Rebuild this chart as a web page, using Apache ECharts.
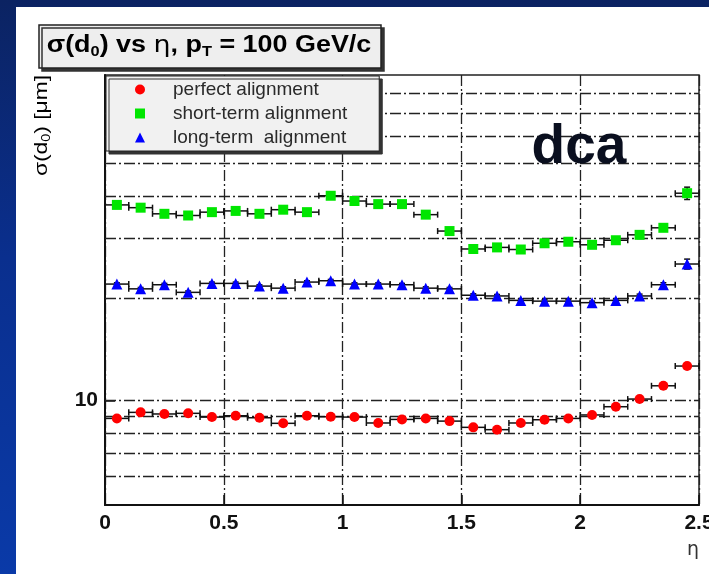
<!DOCTYPE html>
<html>
<head>
<meta charset="utf-8">
<script src="https://cdn.jsdelivr.net/npm/echarts@6/dist/echarts.min.js"></script>
<style>
html, body { margin: 0; padding: 0; }
body {
  width: 709px; height: 574px; overflow: hidden; position: relative;
  background: linear-gradient(180deg, #0b2362 0%, #0a2f8e 45%, #0a3aa8 100%);
}
#panel { position: absolute; left: 16px; top: 7px; right: 0; bottom: 0; background: #fff; }
#main { position: absolute; left: 0; top: 0; width: 709px; height: 574px; }
</style>
</head>
<body>
<div id="panel"></div>
<div id="main"></div>
<script>
var chart = echarts.init(document.getElementById('main'));

// eta bin centres, bins are 0.1 wide
var etaBins = [0.05, 0.15, 0.25, 0.35, 0.45, 0.55, 0.65, 0.75, 0.85, 0.95,
  1.05, 1.15, 1.25, 1.35, 1.45, 1.55, 1.65, 1.75, 1.85, 1.95,
  2.05, 2.15, 2.25, 2.35, 2.45];
var etaHalfWidth = 0.05;

// sigma(d0) in um
var perfectAlign = [8.86, 9.23, 9.13, 9.17, 8.94, 9.02, 8.90, 8.57, 9.02, 8.96,
  8.94, 8.59, 8.80, 8.86, 8.70, 8.34, 8.21, 8.59, 8.78, 8.86,
  9.07, 9.59, 10.10, 11.05, 12.63];
var perfectErr = [0.1, 0.1, 0.1, 0.1, 0.1, 0.1, 0.1, 0.1, 0.1, 0.1,
  0.1, 0.1, 0.1, 0.1, 0.1, 0.1, 0.1, 0.1, 0.1, 0.1,
  0.1, 0.12, 0.14, 0.18, 0.25];

var shortTerm = [37.6, 36.9, 35.4, 35.0, 35.8, 36.1, 35.4, 36.4, 35.8, 40.0,
  38.6, 37.8, 37.8, 35.2, 31.5, 27.9, 28.2, 27.8, 29.0, 29.3,
  28.7, 29.6, 30.7, 32.2, 40.7];
var shortTermErr = [0.3, 0.3, 0.3, 0.3, 0.3, 0.3, 0.3, 0.3, 0.3, 0.3,
  0.3, 0.3, 0.3, 0.3, 0.3, 0.3, 0.3, 0.3, 0.3, 0.3,
  0.3, 0.3, 0.4, 0.5, 1.7];

var longTerm = [22.0, 21.3, 21.9, 20.8, 22.1, 22.1, 21.7, 21.4, 22.3, 22.5,
  22.0, 22.0, 21.9, 21.4, 21.3, 20.4, 20.3, 19.7, 19.6, 19.6,
  19.4, 19.7, 20.3, 21.9, 25.2];
var longTermErr = [0.2, 0.2, 0.2, 0.2, 0.2, 0.2, 0.2, 0.2, 0.2, 0.2,
  0.2, 0.2, 0.2, 0.2, 0.2, 0.2, 0.2, 0.2, 0.2, 0.2,
  0.2, 0.2, 0.25, 0.3, 0.85];

var seriesNames = ['perfect alignment', 'short-term alignment', 'long-term  alignment'];
var yGridValues = [6, 7, 8, 9, 10, 20, 30, 40, 50, 60, 70, 80];
var yMin = 4.93, yMax = 90.6;

var gridDash = [11, 3, 2, 3];
var font = 'Liberation Sans, Arial, sans-serif';

function points(vals) {
  return etaBins.map(function (x, i) { return [x, vals[i]]; });
}
function withErr(vals, errs) {
  return etaBins.map(function (x, i) { return [x, vals[i], errs[i]]; });
}

// horizontal bin-width bars + vertical errors, ROOT style with end caps
function drawErrors(params, api) {
  var x = api.value(0), y = api.value(1), e = api.value(2);
  var l = api.coord([x - etaHalfWidth, y]);
  var r = api.coord([x + etaHalfWidth, y]);
  var lo = api.coord([x, y - e]);
  var hi = api.coord([x, y + e]);
  var c = 3;
  var st = { stroke: '#111', lineWidth: 1.5 };
  return {
    type: 'group',
    children: [
      { type: 'line', shape: { x1: l[0], y1: l[1], x2: r[0], y2: r[1] }, style: st },
      { type: 'line', shape: { x1: l[0], y1: l[1] - c, x2: l[0], y2: l[1] + c }, style: st },
      { type: 'line', shape: { x1: r[0], y1: r[1] - c, x2: r[0], y2: r[1] + c }, style: st },
      { type: 'line', shape: { x1: lo[0], y1: lo[1], x2: hi[0], y2: hi[1] }, style: st },
      { type: 'line', shape: { x1: hi[0] - c, y1: hi[1], x2: hi[0] + c, y2: hi[1] }, style: st },
      { type: 'line', shape: { x1: lo[0] - c, y1: lo[1], x2: lo[0] + c, y2: lo[1] }, style: st }
    ]
  };
}

var subRich = {
  a: { fontSize: 23, fontWeight: 'bold', fontFamily: font, color: '#111' },
  g: { fontSize: 23, fontWeight: 'normal', fontFamily: 'DejaVu Sans, sans-serif', color: '#111' },
  s: { fontSize: 14, fontWeight: 'bold', fontFamily: font, color: '#111', padding: [12, 0, 0, 0] }
};
var nameRich = {
  a: { fontSize: 19, fontFamily: font, color: '#222' },
  s: { fontSize: 12, fontFamily: font, color: '#222', padding: [10, 0, 0, 0] }
};

var option = {
  animation: false,
  backgroundColor: 'transparent',
  grid: {
    left: 105, right: 10, top: 75, bottom: 69,
    outerBoundsMode: 'none',
    show: true, borderColor: '#222', borderWidth: 1.5
  },
  legend: {
    orient: 'vertical',
    left: 106, top: 76,
    padding: [4, 32, 4, 29],
    itemWidth: 10, itemHeight: 10, itemGap: 5,
    selectedMode: false,
    backgroundColor: '#f1f1f1',
    borderColor: '#222', borderWidth: 1,
    shadowColor: '#333', shadowBlur: 0, shadowOffsetX: 3, shadowOffsetY: 3,
    textStyle: { fontSize: 19, fontFamily: font, color: '#2a2a2a', padding: [0, 0, 0, 23] },
    data: [
      { name: seriesNames[0], icon: 'circle' },
      { name: seriesNames[1], icon: 'rect' },
      { name: seriesNames[2], icon: 'triangle' }
    ]
  },
  xAxis: {
    type: 'value', min: 0, max: 2.5, interval: 0.5,
    axisLine: { onZero: false, lineStyle: { color: '#111', width: 2 } },
    axisTick: { inside: true, length: 10, lineStyle: { color: '#111', width: 1.5 } },
    axisLabel: { fontSize: 21, fontWeight: 'bold', fontFamily: font, color: '#111', margin: 8 },
    splitLine: { show: true, lineStyle: { type: gridDash, color: '#222', width: 1.3 } }
  },
  yAxis: {
    type: 'log', min: yMin, max: yMax, logBase: 10,
    axisLine: { onZero: false, lineStyle: { color: '#111', width: 2 } },
    axisTick: { inside: true, length: 10, lineStyle: { color: '#111', width: 1.5 } },
    axisLabel: { fontSize: 21, fontWeight: 'bold', fontFamily: font, color: '#111', margin: 7,
      showMinLabel: false, showMaxLabel: false },
    splitLine: { show: false }
  },
  graphic: [
    {
      type: 'group', z: 100,
      children: [
        { type: 'rect', shape: { x: 39, y: 25, width: 342, height: 43 },
          style: { fill: '#eeeeee', stroke: '#222', lineWidth: 1.5,
            shadowColor: '#333', shadowBlur: 0, shadowOffsetX: 3, shadowOffsetY: 3 } },
        { type: 'text', x: 209, y: 46, scaleX: 1.17,
          style: { text: '{a|σ(d}{s|0}{a|) vs }{g|η}{a|, p}{s|T}{a| = 100 GeV/c}', rich: subRich,
            align: 'center', verticalAlign: 'middle' } }
      ]
    },
    { type: 'text', x: 42, y: 75, rotation: Math.PI / 2, scaleX: 1.2, z: 100,
      style: { text: '{a|σ(d}{s|0}{a|) [μm]}', rich: nameRich, align: 'right', verticalAlign: 'middle' } },
    { type: 'text', x: 579, y: 148, z: 100,
      style: { text: 'dca', font: 'bold 55px ' + font, fill: '#0a0f1f', align: 'center', verticalAlign: 'middle' } },
    { type: 'text', x: 693, y: 550, z: 100,
      style: { text: 'η', font: '19px DejaVu Sans, sans-serif', fill: '#333', align: 'center', verticalAlign: 'middle' } }
  ],
  series: [
    {
      type: 'custom', renderItem: drawErrors, z: 2, silent: true,
      data: withErr(perfectAlign, perfectErr),
      markLine: {
        silent: true, z: 1, symbol: ['none', 'none'],
        label: { show: false },
        lineStyle: { type: gridDash, color: '#222', width: 1.3 },
        emphasis: { disabled: true },
        data: yGridValues.map(function (v) { return { yAxis: v }; })
      }
    },
    { type: 'custom', renderItem: drawErrors, z: 2, silent: true, data: withErr(shortTerm, shortTermErr) },
    { type: 'custom', renderItem: drawErrors, z: 2, silent: true, data: withErr(longTerm, longTermErr) },
    { name: seriesNames[0], type: 'scatter', z: 3, symbol: 'circle', symbolSize: 10,
      itemStyle: { color: '#ff0000', opacity: 1 }, data: points(perfectAlign) },
    { name: seriesNames[1], type: 'scatter', z: 3, symbol: 'rect', symbolSize: 10,
      itemStyle: { color: '#00e600', opacity: 1 }, data: points(shortTerm) },
    { name: seriesNames[2], type: 'scatter', z: 3, symbol: 'triangle', symbolSize: 11,
      itemStyle: { color: '#0000ff', opacity: 1 }, data: points(longTerm) }
  ]
};

chart.setOption(option);
</script>
</body>
</html>
